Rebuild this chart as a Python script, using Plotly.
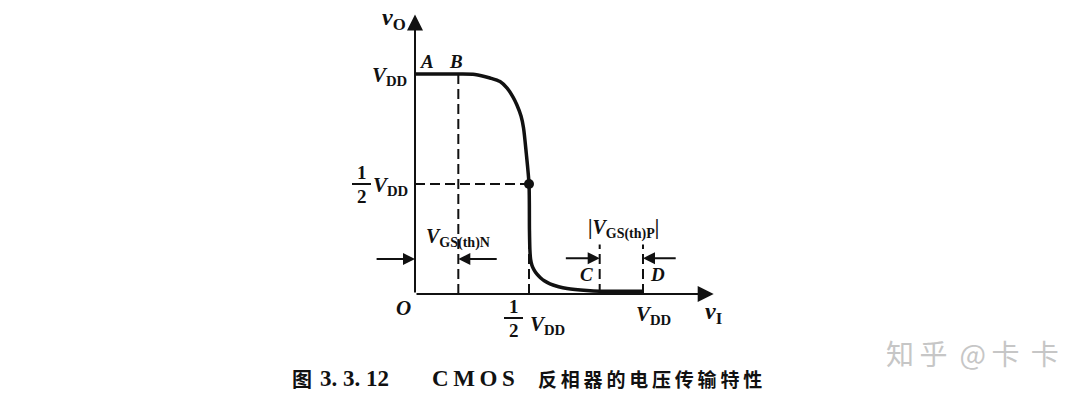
import plotly.graph_objects as go

# Normalised voltages (V_DD = 1)
VDD = 1.0
VTN = 0.19          # V_GS(th)N
VTP = 0.19          # |V_GS(th)P|

# Transfer characteristic v_O(v_I)
v_in = [0.0, 0.19, 0.263, 0.329, 0.373, 0.404, 0.430, 0.447, 0.465, 0.476,
        0.488, 0.5, 0.502, 0.504, 0.507, 0.513, 0.522, 0.535, 0.55, 0.567,
        0.592, 0.63, 0.667, 0.754, 0.81, 1.0]
v_out = [1.0, 1.0, 0.998, 0.982, 0.966, 0.936, 0.895, 0.859, 0.809, 0.755,
         0.64, 0.5, 0.29, 0.2, 0.158, 0.13, 0.11, 0.09, 0.074, 0.06,
         0.046, 0.033, 0.025, 0.016, 0.013, 0.013]

W, H = 1082, 399
X0, XU = 415, 228     # pixel of v_I = 0, pixels per V_DD
Y0, YU = 294, 220     # pixel of v_O = 0, pixels per V_DD

SERIF = "Liberation Serif"
CJK = "Noto Sans CJK SC"
INK = "#111111"

fig = go.Figure()

dash = dict(color=INK, width=2, dash="10px,5px")

# dashed guides
fig.add_trace(go.Scatter(x=[0, VDD / 2], y=[VDD / 2, VDD / 2], mode="lines", line=dash))
fig.add_trace(go.Scatter(x=[VTN, VTN], y=[0, VDD], mode="lines", line=dash))
fig.add_trace(go.Scatter(x=[VDD / 2, VDD / 2], y=[0, VDD / 2], mode="lines", line=dash))
fig.add_trace(go.Scatter(x=[VDD - VTP, VDD - VTP], y=[0, 0.225], mode="lines", line=dash))
fig.add_trace(go.Scatter(x=[VDD, VDD], y=[0, 0.225], mode="lines", line=dash))

# transfer curve
fig.add_trace(go.Scatter(x=v_in, y=v_out, mode="lines",
                         line=dict(color=INK, width=3.5, shape="spline", smoothing=0.8)))
# switching point
fig.add_trace(go.Scatter(x=[VDD / 2], y=[VDD / 2], mode="markers",
                         marker=dict(color=INK, size=10)))

ann = []


def arrow(x, y, ax, ay, size=1.4, width=2):
    ann.append(dict(x=x, y=y, ax=ax, ay=ay, xref="x", yref="y", axref="x", ayref="y",
                    text="", showarrow=True, arrowhead=2, arrowsize=size,
                    arrowwidth=width, arrowcolor=INK))


# axes
arrow(1.31, 0, 0, 0, size=1.6)
arrow(0, 1.27, 0, 0, size=1.6)

# threshold markers
yN = 0.159
arrow(0, yN, -0.175, yN, size=1.2)
arrow(VTN, yN, VTN + 0.175, yN, size=1.2)
yP = 0.163
arrow(VDD - VTP, yP, VDD - VTP - 0.155, yP, size=1.2)
arrow(VDD, yP, VDD + 0.15, yP, size=1.2)


def label(x, y, text, size=20, xanchor="center", yanchor="middle", xs=0, ys=0, font=SERIF,
          color=INK):
    ann.append(dict(x=x, y=y, xref="x", yref="y", text=text, showarrow=False,
                    xanchor=xanchor, yanchor=yanchor, xshift=xs, yshift=ys,
                    font=dict(family=font, size=size, color=color)))


VDD_TXT = "<b><i>V</i></b><sub><b>DD</b></sub>"

# axis titles
label(0, 1.27, "<b><i>v</i></b><sub><b>O</b></sub>", size=24, xanchor="right", xs=-7, ys=-4)
label(1.31, 0, "<b><i>v</i></b><sub><b>I</b></sub>", size=24, xanchor="left", xs=-11, ys=-19)
label(0, 0, "<b><i>O</i></b>", size=21, xanchor="right", xs=-2, ys=-14)

# region letters
label(0, VDD, "<b><i>A</i></b>", size=19, xanchor="left", xs=3, ys=13)
label(VTN, VDD, "<b><i>B</i></b>", size=19, xs=-2, ys=13)
label(VDD - VTP, 0, "<b><i>C</i></b>", size=19, xanchor="right", xs=-5, ys=20)
label(VDD, 0, "<b><i>D</i></b>", size=19, xanchor="left", xs=5, ys=20)

# y-axis levels
label(0, VDD, VDD_TXT, size=21, xanchor="right", xs=-6, ys=-2)
label(0, VDD / 2, VDD_TXT, size=21, xanchor="right", xs=-5, ys=-2)
label(0, VDD / 2, "<b>1</b>", size=19, xs=-53, ys=12)
label(0, VDD / 2, "<b>2</b>", size=19, xs=-53, ys=-12)

# x-axis levels
label(VDD, 0, VDD_TXT, size=21, xs=10, ys=-21)
label(VDD / 2, 0, VDD_TXT, size=21, xanchor="left", xs=-1, ys=-31)
label(VDD / 2, 0, "<b>1</b>", size=19, xs=-15, ys=-12)
label(VDD / 2, 0, "<b>2</b>", size=19, xs=-15, ys=-36)

# threshold names
label(0, yN, "<b><i>V</i></b><sub><b>GS(th)N</b></sub>", size=20, xanchor="left", xs=9, ys=21)
label(VDD - VTP, yP, "<b>|<i>V</i></b><sub><b>GS(th)P</b></sub><b>|</b>", size=20,
      xanchor="left", xs=-14, ys=29)

# fraction bars
shapes = []
for xa, ya, dx, dy in [(0, VDD / 2, -63, 0), (VDD / 2, 0, -25, -24)]:
    shapes.append(dict(type="line", xref="x", yref="y", xsizemode="pixel", ysizemode="pixel",
                       xanchor=xa, yanchor=ya, x0=dx, x1=dx + 19, y0=dy, y1=dy,
                       line=dict(color=INK, width=2)))


# caption and credit line
def cap(px, py, text, size, font, xanchor="left", color=INK):
    ann.append(dict(x=px / W, y=1 - py / H, xref="paper", yref="paper", text=text,
                    showarrow=False, xanchor=xanchor, yanchor="middle",
                    font=dict(family=font, size=size, color=color)))


cap(290, 378, "<b>图</b>", 20, CJK)
cap(318, 378, "<b>3. 3. 12</b>", 23, SERIF)
cap(430, 378, "<b>" + "\u2009".join("CMOS") + "</b>", 23, SERIF)
cap(536, 378, "<b>" + "\u2009".join("反相器的电压传输特性") + "</b>", 19, CJK)

cap(884, 353, "知\u2009乎 \u2009@\u2009卡\u2009\u2009卡", 28, CJK, color="#c6c6c6")

fig.update_layout(
    width=W, height=H, margin=dict(l=0, r=0, t=0, b=0),
    paper_bgcolor="white", plot_bgcolor="white", showlegend=False,
    xaxis=dict(range=[-X0 / XU, (W - X0) / XU], visible=False, fixedrange=True),
    yaxis=dict(range=[(Y0 - H) / YU, Y0 / YU], visible=False, fixedrange=True),
    annotations=ann, shapes=shapes,
)

fig.write_html("out.html")
